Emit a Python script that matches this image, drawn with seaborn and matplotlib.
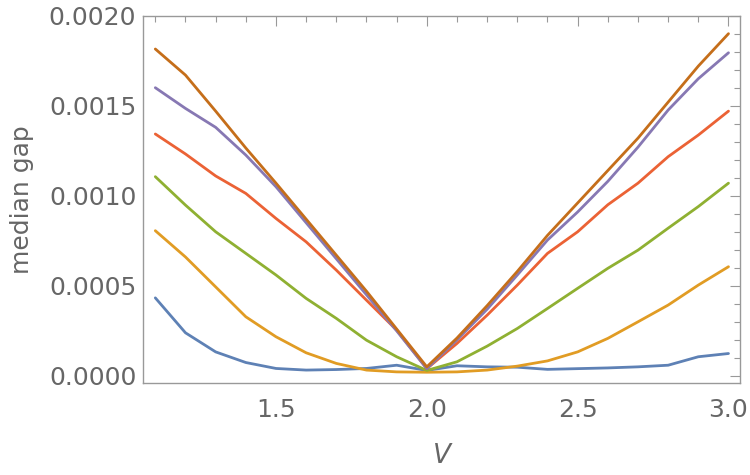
import numpy as np
import pandas as pd
import seaborn as sns
import matplotlib.pyplot as plt
from matplotlib.ticker import MultipleLocator, FormatStrFormatter

sns.set_style('white')
plt.rcParams['font.family'] = ['DejaVu Sans']

V = [1.1, 1.2, 1.3, 1.4, 1.5, 1.6, 1.7, 1.8, 1.9, 2.0,
     2.1, 2.2, 2.3, 2.4, 2.5, 2.6, 2.7, 2.8, 2.9, 3.0]

# median gap curves, one per series
gap_1 = [0.000433, 0.000239, 0.000133, 0.000074, 0.000041, 0.000032, 0.000035, 0.000041, 0.000059, 0.000030,
         0.000056, 0.000050, 0.000048, 0.000036, 0.000040, 0.000044, 0.000050, 0.000059, 0.000106, 0.000124]
gap_2 = [0.000806, 0.000660, 0.000494, 0.000328, 0.000217, 0.000128, 0.000069, 0.000032, 0.000022, 0.000020,
         0.000022, 0.000032, 0.000054, 0.000083, 0.000133, 0.000208, 0.000300, 0.000393, 0.000504, 0.000606]
gap_3 = [0.001106, 0.000948, 0.000800, 0.000680, 0.000560, 0.000430, 0.000319, 0.000198, 0.000106, 0.000030,
         0.000078, 0.000165, 0.000263, 0.000374, 0.000486, 0.000597, 0.000698, 0.000820, 0.000940, 0.001070]
gap_4 = [0.001343, 0.001232, 0.001110, 0.001013, 0.000874, 0.000744, 0.000587, 0.000420, 0.000254, 0.000040,
         0.000180, 0.000337, 0.000504, 0.000680, 0.000800, 0.000950, 0.001070, 0.001217, 0.001337, 0.001470]
gap_5 = [0.001600, 0.001485, 0.001380, 0.001226, 0.001050, 0.000850, 0.000650, 0.000450, 0.000250, 0.000040,
         0.000200, 0.000370, 0.000560, 0.000754, 0.000910, 0.001080, 0.001270, 0.001476, 0.001650, 0.001794]
gap_6 = [0.001815, 0.001670, 0.001470, 0.001265, 0.001070, 0.000870, 0.000670, 0.000470, 0.000260, 0.000050,
         0.000210, 0.000390, 0.000580, 0.000780, 0.000960, 0.001140, 0.001320, 0.001520, 0.001720, 0.001900]

series = [gap_1, gap_2, gap_3, gap_4, gap_5, gap_6]
colors = ['#5E81B5', '#E19C24', '#8FB032', '#EB6235', '#8778B3', '#C56E1A']

df = pd.concat([pd.DataFrame({'V': V, 'gap': s, 'series': i}) for i, s in enumerate(series)])

fig = plt.figure(figsize=(7.5, 4.75), dpi=100)
ax = fig.add_axes([0.191, 0.194, 0.796, 0.773])

sns.lineplot(data=df, x='V', y='gap', hue='series', palette=colors,
             linewidth=2.0, legend=False, ax=ax)

ax.set_xlim(1.06, 3.039)
ax.set_ylim(-0.0000389, 0.002)

gray = '#999999'
txt = '#666666'
for sp in ax.spines.values():
    sp.set_color(gray)
    sp.set_linewidth(1.0)

ax.xaxis.set_major_locator(MultipleLocator(0.5))
ax.xaxis.set_minor_locator(MultipleLocator(0.1))
ax.yaxis.set_major_locator(MultipleLocator(0.0005))
ax.yaxis.set_minor_locator(MultipleLocator(0.0001))
ax.xaxis.set_major_formatter(FormatStrFormatter('%.1f'))
ax.yaxis.set_major_formatter(FormatStrFormatter('%.4f'))

ax.tick_params(which='both', direction='in', top=True, right=True, color=gray, width=0.8)
ax.tick_params(which='major', length=7, labelsize=18, labelcolor=txt)
ax.tick_params(which='minor', length=4)
ax.tick_params(axis='x', which='major', pad=11)
ax.tick_params(axis='y', which='major', pad=5)

ax.set_xlabel('V', fontsize=19, style='italic', color=txt, labelpad=15)
ax.set_ylabel('median gap', fontsize=18, color=txt, labelpad=11)

fig.savefig('out.png', dpi=100)
